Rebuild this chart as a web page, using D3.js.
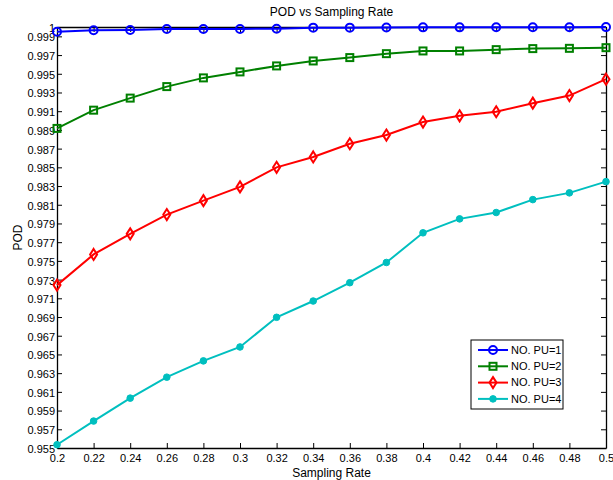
<!DOCTYPE html>
<html>
<head>
<meta charset="utf-8">
<script src="https://cdn.jsdelivr.net/npm/d3@7"></script>
<style>
  body { margin: 0; background: #fff; }
  text { font-family: "Liberation Sans", Arial, sans-serif; fill: #000; }
</style>
</head>
<body>
<div id="chart"></div>
<script>
// sampling rates on x
var rates = [0.2, 0.22, 0.24, 0.26, 0.28, 0.3, 0.32, 0.34, 0.36, 0.38, 0.4, 0.42, 0.44, 0.46, 0.48, 0.5];

// POD for each number of primary users
var pu1 = [0.99950, 0.99965, 0.99968, 0.99979, 0.99979, 0.99979, 0.99982, 0.99993, 0.99993, 0.99995, 0.99996, 0.99996, 0.99997, 0.99998, 0.99998, 0.99999];
var pu2 = [0.98916, 0.99111, 0.99240, 0.99363, 0.99456, 0.99520, 0.99584, 0.99637, 0.99673, 0.99715, 0.99744, 0.99744, 0.99758, 0.99769, 0.99772, 0.99779];
var pu3 = [0.97241, 0.97569, 0.97789, 0.97995, 0.98144, 0.98291, 0.98500, 0.98611, 0.98752, 0.98845, 0.98984, 0.99051, 0.99094, 0.99186, 0.99267, 0.99442];
var pu4 = [0.95535, 0.95788, 0.96033, 0.96257, 0.96431, 0.96580, 0.96897, 0.97071, 0.97267, 0.97483, 0.97800, 0.97949, 0.98017, 0.98155, 0.98227, 0.98347];

var seriesNames = ["NO. PU=1", "NO. PU=2", "NO. PU=3", "NO. PU=4"];

// tick labels
var xTicks = [0.2, 0.22, 0.24, 0.26, 0.28, 0.3, 0.32, 0.34, 0.36, 0.38, 0.4, 0.42, 0.44, 0.46, 0.48, 0.5];
var yTicks = [0.955, 0.957, 0.959, 0.961, 0.963, 0.965, 0.967, 0.969, 0.971, 0.973, 0.975, 0.977,
              0.979, 0.981, 0.983, 0.985, 0.987, 0.989, 0.991, 0.993, 0.995, 0.997, 0.999, 1];

var width = 613, height = 480;
var margin = { top: 27, right: 7, bottom: 32, left: 57 };
var innerW = width - margin.left - margin.right;
var innerH = height - margin.top - margin.bottom;

var series = [
    { name: seriesNames[0], values: pu1, color: "#0000ff", marker: "circle" },
    { name: seriesNames[1], values: pu2, color: "#008000", marker: "square" },
    { name: seriesNames[2], values: pu3, color: "#ff0000", marker: "diamond" },
    { name: seriesNames[3], values: pu4, color: "#00bfbf", marker: "dot" }
];

var svg = d3.select("#chart").append("svg")
    .attr("width", width)
    .attr("height", height);

var g = svg.append("g")
    .attr("transform", "translate(" + margin.left + "," + margin.top + ")");

var x = d3.scaleLinear().domain([0.2, 0.5]).range([0, innerW]);
var y = d3.scaleLinear().domain([0.955, 1]).range([innerH, 0]);

var fmt = function(d) { return String(+d.toFixed(3)); };

// axes, ticks pointing inward like matlab
var tickLen = 5;
var xBottom = g.append("g").attr("transform", "translate(0," + innerH + ")")
    .call(d3.axisBottom(x).tickValues(xTicks).tickSizeInner(-tickLen).tickSizeOuter(0).tickPadding(4).tickFormat(fmt));
var xTop = g.append("g")
    .call(d3.axisTop(x).tickValues(xTicks).tickSizeInner(-tickLen).tickSizeOuter(0).tickFormat(""));
var yLeft = g.append("g")
    .call(d3.axisLeft(y).tickValues(yTicks).tickSizeInner(-tickLen).tickSizeOuter(0).tickPadding(2).tickFormat(fmt));
var yRight = g.append("g").attr("transform", "translate(" + innerW + ",0)")
    .call(d3.axisRight(y).tickValues(yTicks).tickSizeInner(-tickLen).tickSizeOuter(0).tickFormat(""));

[xBottom, xTop, yLeft, yRight].forEach(function(a) {
    a.select(".domain").attr("stroke", "#000").attr("stroke-width", 1.3);
    a.selectAll(".tick line").attr("stroke", "#000");
    a.selectAll("text").style("font-size", "11px").attr("fill", "#000");
});
xBottom.selectAll("text").attr("dy", "0.9em");
yLeft.selectAll("text").attr("dy", "0.4em");

// lines
var line = d3.line()
    .x(function(d, i) { return x(rates[i]); })
    .y(function(d) { return y(d); });

function drawMarker(sel, type, color) {
    if (type === "circle") {
        sel.append("circle").attr("r", 4).attr("fill", "none").attr("stroke", color).attr("stroke-width", 2);
    } else if (type === "square") {
        sel.append("rect").attr("x", -3.5).attr("y", -3.5).attr("width", 7).attr("height", 7)
            .attr("fill", "none").attr("stroke", color).attr("stroke-width", 2);
    } else if (type === "diamond") {
        sel.append("path").attr("d", "M0,-5.5L3.5,0L0,5.5L-3.5,0Z")
            .attr("fill", "none").attr("stroke", color).attr("stroke-width", 2);
    } else {
        sel.append("circle").attr("r", 3.3).attr("fill", color).attr("stroke", color);
    }
}

// draw last series first so the PU=1 line sits on top of the box
series.slice().reverse().forEach(function(s) {
    g.append("path")
        .datum(s.values)
        .attr("fill", "none")
        .attr("stroke", s.color)
        .attr("stroke-width", 2)
        .attr("d", line);

    g.selectAll(null)
        .data(s.values)
        .enter()
        .append("g")
        .attr("transform", function(d, i) { return "translate(" + x(rates[i]) + "," + y(d) + ")"; })
        .each(function() { drawMarker(d3.select(this), s.marker, s.color); });
});

// title and labels
svg.append("text")
    .attr("x", margin.left + innerW / 2)
    .attr("y", 16)
    .attr("text-anchor", "middle")
    .style("font-size", "12px")
    .text("POD vs Sampling Rate");

svg.append("text")
    .attr("x", margin.left + innerW / 2)
    .attr("y", 477)
    .attr("text-anchor", "middle")
    .style("font-size", "12px")
    .text("Sampling Rate");

svg.append("text")
    .attr("transform", "rotate(-90)")
    .attr("x", -(margin.top + innerH / 2))
    .attr("y", 22)
    .attr("text-anchor", "middle")
    .style("font-size", "12px")
    .text("POD");

// legend
var legend = svg.append("g").attr("transform", "translate(471,340)");
legend.append("rect")
    .attr("width", 92)
    .attr("height", 69)
    .attr("fill", "#fff")
    .attr("stroke", "#000")
    .attr("stroke-width", 1);

series.forEach(function(s, i) {
    var row = legend.append("g").attr("transform", "translate(0," + (10 + i * 16.3) + ")");
    row.append("line")
        .attr("x1", 7).attr("x2", 37)
        .attr("stroke", s.color)
        .attr("stroke-width", 2);
    var m = row.append("g").attr("transform", "translate(22,0)");
    drawMarker(m, s.marker, s.color);
    row.append("text")
        .attr("x", 40)
        .attr("dy", "0.35em")
        .style("font-size", "11px")
        .text(s.name);
});
</script>
</body>
</html>
